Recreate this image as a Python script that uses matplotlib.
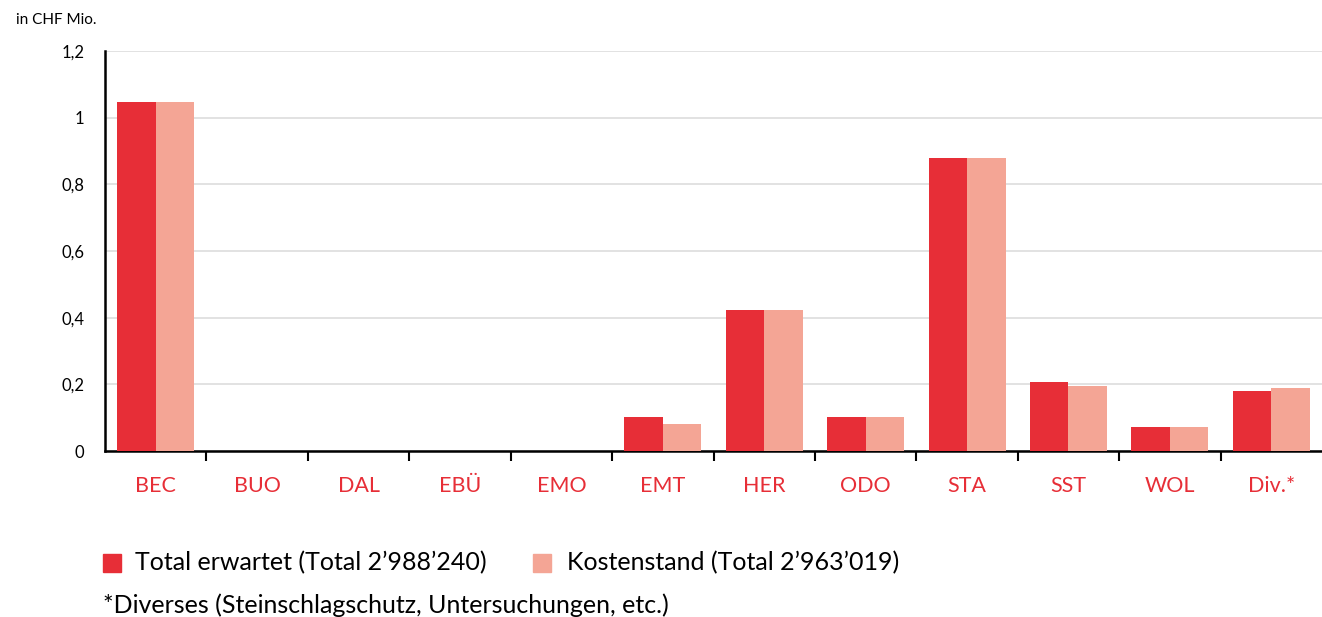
import numpy as np
import matplotlib.pyplot as plt
from matplotlib.ticker import FixedLocator, FuncFormatter

# values in CHF Mio.
categories = ['BEC', 'BUO', 'DAL', 'EBÜ', 'EMO', 'EMT', 'HER', 'ODO', 'STA', 'SST', 'WOL', 'Div.*']
erwartet = [1.047, 0.0, 0.0, 0.0, 0.0, 0.102, 0.423, 0.102, 0.879, 0.207, 0.072, 0.180]
kostenstand = [1.047, 0.0, 0.0, 0.0, 0.0, 0.081, 0.423, 0.102, 0.879, 0.195, 0.072, 0.189]
legend_labels = ['Total erwartet (Total 2\u2019988\u2019240)', 'Kostenstand (Total 2\u2019963\u2019019)']
footnote = '*Diverses (Steinschlagschutz, Untersuchungen, etc.)'

RED = '#e72e37'
PINK = '#f4a595'

plt.rcParams['font.family'] = ['Lato', 'DejaVu Sans']

fig = plt.figure(figsize=(13.22, 6.17), dpi=100)
ax = fig.add_axes([105 / 1322, 166 / 617, 1 - 105 / 1322, 400 / 617])

x = np.arange(len(categories))
w = 0.38
ax.bar(x - w / 2, erwartet, width=w, color=RED, zorder=3)
ax.bar(x + w / 2, kostenstand, width=w, color=PINK, zorder=3)

ax.set_xlim(-0.5, len(categories) - 0.5)
ax.set_ylim(0, 1.2)
ax.set_yticks(np.arange(0, 1.21, 0.2))
ax.yaxis.set_major_formatter(FuncFormatter(lambda v, p: f'{v:.1f}'.rstrip('0').rstrip('.').replace('.', ',') if v else '0'))
ax.tick_params(axis='y', length=0, pad=15, labelsize=12)
ax.grid(axis='y', color='#dddddd', linewidth=1.2, zorder=0)

# boundary ticks between categories, labels at centers
ax.xaxis.set_major_locator(FixedLocator(np.arange(0.5, len(categories) - 1, 1)))
ax.xaxis.set_major_formatter(FuncFormatter(lambda v, p: ''))
ax.xaxis.set_minor_locator(FixedLocator(x))
ax.set_xticklabels(categories, minor=True)
ax.tick_params(axis='x', which='major', length=7, width=1.5, color='black')
ax.tick_params(axis='x', which='minor', length=0, pad=18, labelsize=15.5, labelcolor=RED)

for s in ['top', 'right']:
    ax.spines[s].set_visible(False)
ax.spines['left'].set_linewidth(1.8)
ax.spines['bottom'].set_linewidth(1.8)

fig.text(16 / 1322, 1 - 20 / 617, 'in CHF Mio.', fontsize=11, va='center', ha='left')

# legend
fig.patches.append(plt.Rectangle((103 / 1322, 1 - 572 / 617), 18 / 1322, 18 / 617,
                                 transform=fig.transFigure, color=RED))
fig.text(135 / 1322, 1 - 563 / 617, legend_labels[0], fontsize=18, va='center', ha='left')
fig.patches.append(plt.Rectangle((533 / 1322, 1 - 572 / 617), 18 / 1322, 18 / 617,
                                 transform=fig.transFigure, color=PINK))
fig.text(567 / 1322, 1 - 563 / 617, legend_labels[1], fontsize=18, va='center', ha='left')
fig.text(103 / 1322, 1 - 605 / 617, footnote, fontsize=18, va='center', ha='left')

fig.savefig('out.png', dpi=100)
